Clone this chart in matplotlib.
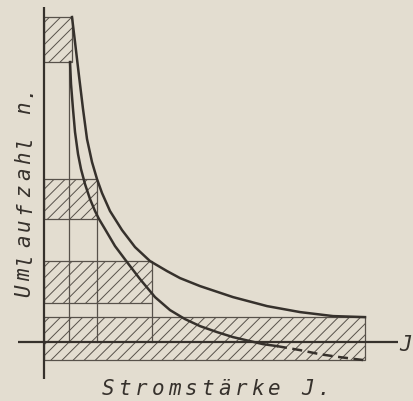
import matplotlib
matplotlib.use("Agg")
import matplotlib.pyplot as plt
from matplotlib.patches import Rectangle

# ──────────────────────────────────────────────────────────────────────────────
# Values (J = Stromstärke, n = Umlaufzahl, arbitrary units)
outer_J = [0.875, 0.969, 1.094, 1.219, 1.344, 1.5, 1.656, 1.813, 2.063, 2.438,
           2.844, 3.313, 3.844, 4.25, 4.875, 5.906, 6.969, 8.0, 9.031, 10.031]
outer_n = [10.156, 9.375, 8.313, 7.281, 6.344, 5.625, 5.094, 4.656, 4.094, 3.5,
           2.969, 2.531, 2.219, 2.0, 1.75, 1.406, 1.125, 0.938, 0.813, 0.781]

inner_J = [0.813, 0.844, 0.906, 0.969, 1.063, 1.156, 1.281, 1.438, 1.594, 1.719,
           1.906, 2.219, 2.594, 3.0, 3.469, 3.938, 4.406, 4.875, 5.406, 5.906,
           6.438, 6.844, 7.281]
inner_n = [8.75, 8.063, 7.281, 6.563, 5.875, 5.406, 4.938, 4.469, 4.094, 3.844,
           3.531, 3.0, 2.5, 1.969, 1.406, 1.0, 0.719, 0.5, 0.313, 0.156,
           0.031, -0.063, -0.125]

# continuation below the J axis (dashed)
dash_J = [7.281, 8.0, 8.63, 9.25, 9.97]
dash_n = [-0.125, -0.25, -0.38, -0.47, -0.56]

# hatched bands: right end in J, lower and upper n
band_J = [0.875, 1.656, 3.375, 10.031]
band_lo = [8.75, 3.844, 1.22, -0.56]
band_hi = [10.156, 5.094, 2.53, 0.781]

# vertical guide lines down to the J axis
guide_J = [0.79, 1.656, 3.375]
guide_top = [8.75, 3.844, 1.22]

x_label = "Stromstärke J."
y_label = "Umlaufzahl n."
axis_name = "J"
# ──────────────────────────────────────────────────────────────────────────────

PAPER = "#e3ddd0"
INK = "#36312c"
THIN = "#57514a"

plt.rcParams["hatch.linewidth"] = 0.7

fig = plt.figure(figsize=(4.13, 4.02), dpi=100, facecolor=PAPER)
ax = fig.add_axes([0, 0, 1, 1])
ax.set_facecolor(PAPER)
ax.set_xlim(-1.375, 11.53)
ax.set_ylim(-1.84, 10.72)
ax.axis("off")

# bands
for j1, lo, hi in zip(band_J, band_lo, band_hi):
    ax.add_patch(Rectangle((0, lo), j1, hi - lo, facecolor="none",
                           edgecolor=THIN, hatch="///", lw=0.9))

# guides
for gj, top in zip(guide_J, guide_top):
    ax.plot([gj, gj], [0, top], color=THIN, lw=0.9)

# axes
ax.plot([0, 0], [-1.16, 10.47], color=INK, lw=1.6, solid_capstyle="butt")
ax.plot([-0.81, 11.06], [0, 0], color=INK, lw=1.6, solid_capstyle="butt")

# curves
ax.plot(outer_J, outer_n, color=INK, lw=1.8, solid_joinstyle="round")
ax.plot(inner_J, inner_n, color=INK, lw=1.8, solid_joinstyle="round")
ax.plot(dash_J, dash_n, color=INK, lw=1.8, linestyle=(0, (4, 2.2)))

# lettering, evenly pitched like stencil text
font = dict(family="DejaVu Sans Mono", style="italic", size=15, color=INK)

def spaced(s, x0, y0, dx, dy, **kw):
    for i, ch in enumerate(s):
        fig.text(x0 + i * dx, y0 + i * dy, ch, **kw)

spaced(x_label, 108 / 413, 7 / 402, 16.6 / 413, 0,
       ha="center", va="baseline", **font)
spaced(y_label, 30 / 413, 111 / 402, 0, 16.7 / 402,
       ha="center", va="baseline", rotation=90, rotation_mode="anchor", **font)
fig.text(406 / 413, 57 / 402, axis_name, ha="center", va="center", **font)

fig.savefig("out.png", dpi=100, facecolor=PAPER)
